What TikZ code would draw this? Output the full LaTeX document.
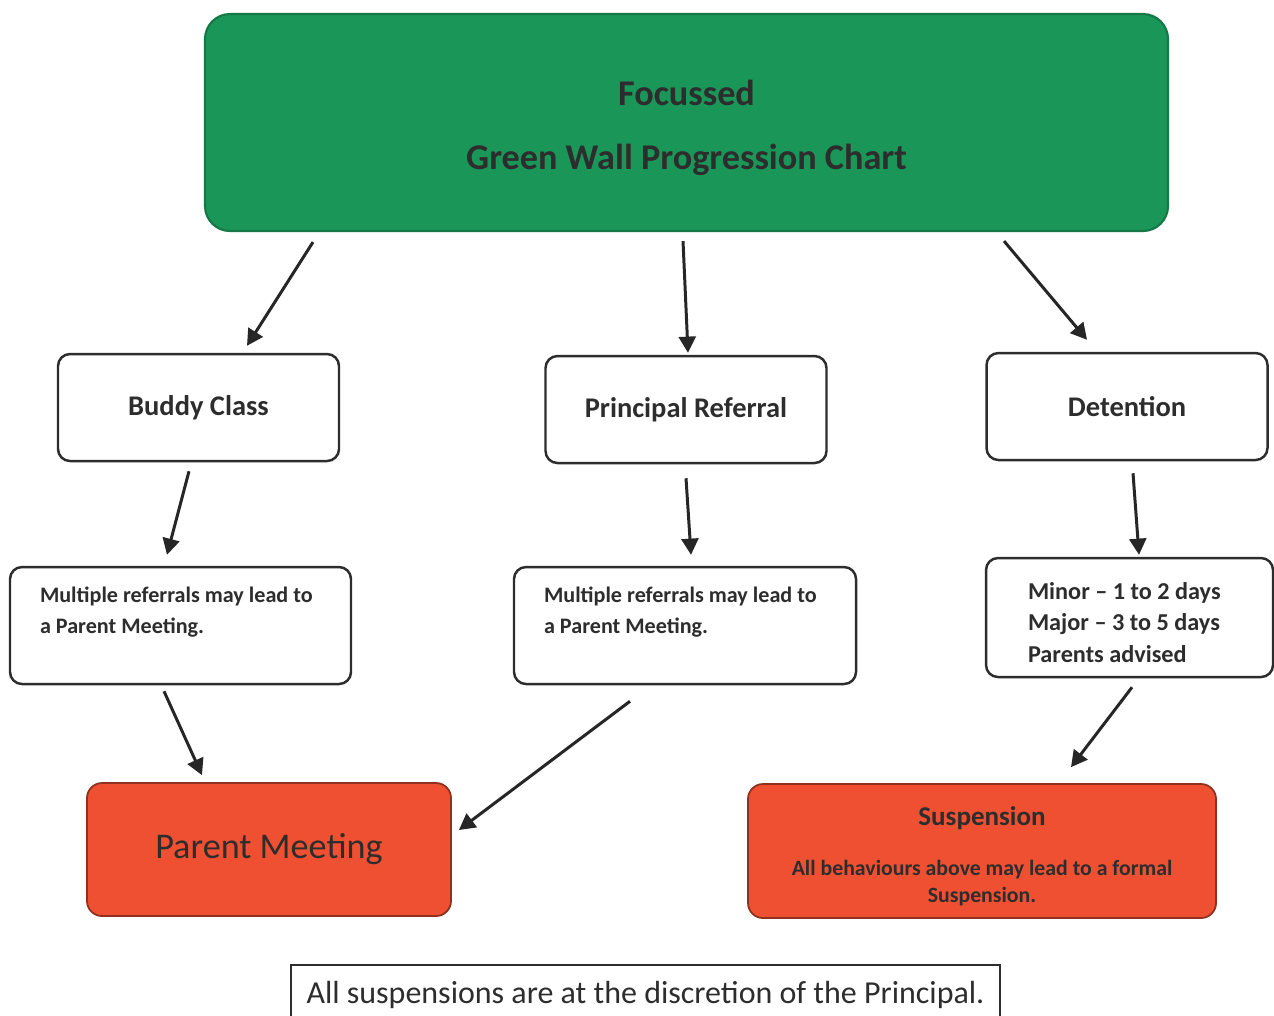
\documentclass[tikz,border=0pt]{standalone}
\usepackage{fontspec}
\setmainfont{Carlito}
\usetikzlibrary{arrows.meta}
\definecolor{wallgreen}{RGB}{26,150,88}
\definecolor{wallred}{RGB}{240,80,50}
\definecolor{inkgray}{RGB}{45,45,45}
\newcommand{\fs}[1]{\fontsize{#1}{1.3\dimexpr#1pt\relax}\selectfont}
\begin{document}
\begin{tikzpicture}[thick,
    head node/.style={rectangle,rounded corners=0.25cm,fill=wallgreen,draw=wallgreen!80!black,line width=0.6pt,
      minimum width=9.63cm,minimum height=2.17cm,text=inkgray,align=center,font=\bfseries\fs{10.3}},
    step node/.style={rectangle,rounded corners=0.12cm,draw=inkgray,line width=0.7pt,fill=white,
      minimum width=2.81cm,minimum height=1.07cm,text=inkgray,font=\bfseries\fs{8.1}},
    note node/.style={rectangle,rounded corners=0.12cm,draw=inkgray,line width=0.7pt,fill=white,
      minimum height=1.17cm,inner xsep=0.3cm,align=flush left,text=inkgray},
    end node/.style={rectangle,rounded corners=0.15cm,fill=wallred,draw=wallred!60!black,line width=0.5pt,
      minimum height=1.33cm,align=center,text=inkgray},
    arr/.style={draw=black!85,line width=0.85pt,-{Triangle[length=4.6pt,width=4.8pt]}}
    ]
  \clip (0,0) rectangle (12.74,-10.15);
  \fill[white] (0,0) rectangle (12.74,-10.15);
  % top of the chart
  \node[head node] (title) at (6.865,-1.225)
    {\rule{0pt}{0.36cm}Focussed\\[0.17cm]Green Wall Progression Chart};
  % first level
  \node[step node] (buddy) at (1.985,-4.075) {Buddy Class};
  \node[step node] (principal) at (6.86,-4.095) {Principal Referral};
  \node[step node] (detention) at (11.27,-4.065) {Detention};
  % second level
  \node[note node,minimum width=3.41cm,text width=2.81cm,font=\bfseries\fontsize{6.3}{8.8}\selectfont]
    (multi1) at (1.805,-6.255) {Multiple referrals may lead to\\a Parent Meeting.\\\mbox{}};
  \node[note node,minimum width=3.42cm,text width=2.82cm,font=\bfseries\fontsize{6.3}{8.8}\selectfont]
    (multi2) at (6.85,-6.255) {Multiple referrals may lead to\\a Parent Meeting.\\\mbox{}};
  \node[note node,minimum width=2.87cm,minimum height=1.19cm,inner xsep=0.42cm,text width=2.03cm,
    font=\bfseries\fontsize{6.9}{8.9}\selectfont]
    (days) at (11.295,-6.175) {\rule{0pt}{0.27cm}Minor -- 1 to 2 days\\Major -- 3 to 5 days\\Parents advised};
  % outcomes
  \node[end node,minimum width=3.64cm,font=\fs{10.3}] (parent) at (2.69,-8.495) {Parent Meeting};
  \node[end node,minimum width=4.68cm,minimum height=1.34cm,font=\bfseries\fontsize{6.2}{7.7}\selectfont]
    (suspend) at (9.82,-8.51)
    {\fs{7.7}\rule{0pt}{0.29cm}Suspension\\[0.23cm]All behaviours above may lead to a formal\\Suspension.};
  \node[rectangle,draw=inkgray,line width=0.8pt,minimum width=7.09cm,minimum height=0.6cm,text=inkgray,
    font=\fs{9.1}] (rule) at (6.455,-9.95) {All suspensions are at the discretion of the Principal.};
  % connectors
  \path
    ([xshift=-3.735cm,yshift=-0.1cm]title.south) edge[arr] ([xshift=0.485cm,yshift=0.07cm]buddy.north)
    ([xshift=-0.035cm,yshift=-0.09cm]title.south) edge[arr] ([xshift=0.02cm,yshift=0.02cm]principal.north)
    ([xshift=3.175cm,yshift=-0.09cm]title.south) edge[arr] ([xshift=-0.4cm,yshift=0.12cm]detention.north)
    ([xshift=-0.095cm,yshift=-0.09cm]buddy.south) edge[arr] ([xshift=-0.135cm,yshift=0.11cm]multi1.north)
    ([yshift=-0.14cm]principal.south) edge[arr] ([xshift=0.06cm,yshift=0.11cm]multi2.north)
    ([xshift=0.06cm,yshift=-0.12cm]detention.south) edge[arr] ([xshift=0.095cm,yshift=0.02cm]days.north)
    ([xshift=-0.165cm,yshift=-0.06cm]multi1.south) edge[arr] ([xshift=-0.67cm,yshift=0.07cm]parent.north)
    ([xshift=-0.55cm,yshift=-0.16cm]multi2.south) edge[arr] ([xshift=0.07cm,yshift=0.195cm]parent.east)
    ([xshift=0.025cm,yshift=-0.09cm]days.south) edge[arr] ([xshift=0.89cm,yshift=0.16cm]suspend.north);
\end{tikzpicture}
\end{document}
